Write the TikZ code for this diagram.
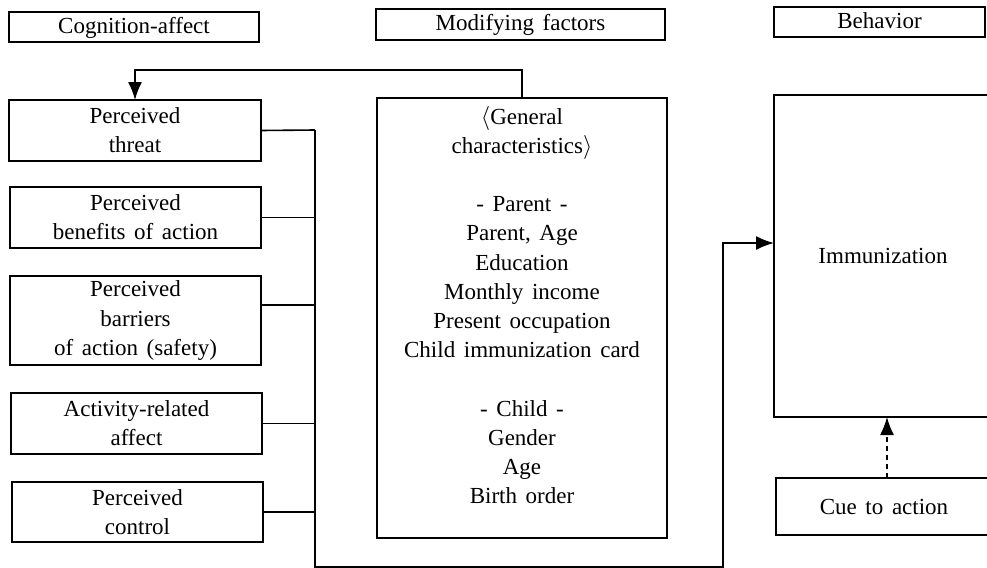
\documentclass[tikz,border=0pt]{standalone}
\usepackage{fontspec}
\setmainfont{Liberation Serif}[WordSpace=1.5]
\usetikzlibrary{arrows.meta}
\begin{document}
\begin{tikzpicture}[x=0.5pt,y=-0.5pt,
  txt/.style={inner sep=0pt, outer sep=0pt, align=center, font=\fontsize{11.5}{14.6}\selectfont},
  box/.style={txt, draw, line width=0.8pt},
  hdr/.style={draw, line width=0.8pt, inner sep=0pt, outer sep=0pt, text height=8pt, text depth=2pt, font=\fontsize{11.5}{14.6}\selectfont},
  conn/.style={line width=0.8pt},
  arr/.style={conn, -{Latex[length=9pt,width=7pt]}}]
\useasboundingbox (0,0) rectangle (987,568);
\clip (0,0) rectangle (987,568);
% headers
\node[hdr, minimum width=125pt, minimum height=15pt] (cog) at (134,27) {Cognition-affect};
\node[hdr, minimum width=144.5pt, minimum height=15.5pt] (mod) at (520.5,24.5) {Modifying factors};
\node[hdr, minimum width=105.5pt, minimum height=15pt] (beh) at (879.5,22) {Behavior};
% left column
\node[box, minimum width=126pt, minimum height=30.5pt] (threat) at (135,130.5) {Perceived\\threat};
\node[box, minimum width=125.5pt, minimum height=30.5pt] (benefit) at (135.5,217.5) {Perceived\\benefits of action};
\node[box, minimum width=125.5pt, minimum height=44.5pt] (barrier) at (135.5,320.5) {Perceived\\barriers\\of action (safety)};
\node[box, minimum width=125.5pt, minimum height=30.5pt] (activity) at (136.5,423.5) {Activity-related\\affect};
\node[box, minimum width=125.5pt, minimum height=30pt] (control) at (137.5,512) {Perceived\\control};
% middle
\node[box, minimum width=145pt, minimum height=220pt] (gen) at (522,318) {};
\node[txt] (gentext) at (522,305) {$\langle$General\\characteristics$\rangle$\\[14.6pt]- Parent -\\Parent, Age\\Education\\Monthly income\\Present occupation\\Child immunization card\\[14.6pt]- Child -\\Gender\\Age\\Birth order};
% right
\node[box, minimum width=109pt, minimum height=161pt] (immun) at (883,256) {Immunization};
\node[box, minimum width=108pt, minimum height=28.5pt] (cue) at (884,506.5) {Cue to action};
% connectors
\coordinate (busTop) at (315,130);
\coordinate (busBot) at (315,567);
\coordinate (elbow) at (723,567);
\draw[conn] (threat.east) -- (busTop);
\draw[conn] (benefit.east) -- (benefit.east -| busTop);
\draw[conn] ([yshift=7.75pt]barrier.east) -- ([yshift=7.75pt]barrier.east -| busTop);
\draw[conn] (activity.east) -- (activity.east -| busTop);
\draw[conn] (control.east) -- (control.east -| busTop);
\draw[arr] (busTop) -- (busBot) -- (elbow) |- ([yshift=6.5pt]immun.west);
\draw[arr] (gen.north) -- ++(0,-28) -| (threat.north);
\draw[arr, dash pattern=on 2.5pt off 2pt] ([xshift=1.5pt]cue.north) -- ([xshift=1.5pt]cue.north |- immun.south);
\end{tikzpicture}
\end{document}
